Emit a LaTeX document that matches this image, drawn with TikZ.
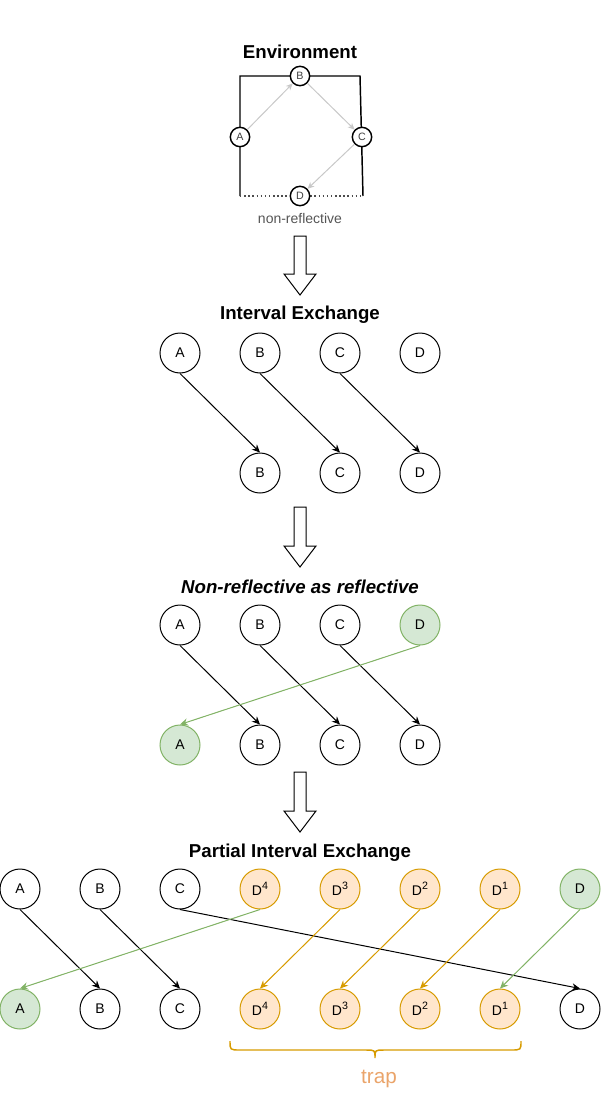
\documentclass[tikz,border=0pt]{standalone}
\usepackage{fontspec}
\setmainfont{Liberation Sans}
\usetikzlibrary{arrows.meta}
\definecolor{gfill}{HTML}{D5E8D4}
\definecolor{gline}{HTML}{82B366}
\definecolor{ofill}{HTML}{FFE6CC}
\definecolor{oline}{HTML}{D79B00}
\definecolor{traptext}{HTML}{EAA46A}
\definecolor{envarrow}{HTML}{C8C8C8}
\definecolor{envtext}{HTML}{555555}
\newcommand{\mysup}[1]{\raisebox{0.45em}{\fontsize{8}{9}\selectfont #1}}
\tikzset{
  st/.style={circle,draw=black,line width=0.75pt,fill=white,minimum size=30pt,inner sep=0pt,font=\fontsize{10.5}{12}\selectfont},
  gst/.style={st,draw=gline,fill=gfill},
  ost/.style={st,draw=oline,fill=ofill},
  est/.style={circle,draw=black,line width=1.1pt,fill=white,minimum size=14.5pt,inner sep=0pt,font=\fontsize{8}{9}\selectfont,text=black!75},
  ttl/.style={font=\fontsize{14}{16}\selectfont\bfseries},
  conn/.style={line width=0.75pt,-{Stealth[length=6pt,width=5.5pt,inset=2pt]}},
  gconn/.style={conn,draw=gline,fill=gline},
  oconn/.style={conn,draw=oline,fill=oline},
  earr/.style={line width=0.75pt,draw=envarrow,-{Stealth[length=5pt,width=4.5pt,inset=1.5pt]}},
  bigarrow/.style={draw=black,line width=0.75pt,fill=white,line join=miter},
}
\newcommand{\hollowdown}[2]{% #1 top y, #2 tip y
  \draw[bigarrow] (294,#1) -- (306,#1) -- (306,#2-21) -- (316,#2-21) -- (300,#2) -- (284,#2-21) -- (294,#2-21) -- cycle;
}
\begin{document}
\begin{tikzpicture}[x=0.75pt,y=-0.75pt]
\useasboundingbox (0,0) rectangle (601,1099);

% ---------- Environment ----------
\node[ttl] (t1) at (300,52) {Environment};
\draw[line width=1.1pt] (240,196) -- (240,76) -- (360,76) -- (363,196);
\draw[line width=1.1pt,dotted,black!70] (240,196) -- (363,196);
\node[est] (eA) at (240,137) {A};
\node[est] (eB) at (300,76) {B};
\node[est] (eC) at (362,137) {C};
\node[est] (eD) at (300,196) {D};
\draw[earr] (eA) -- (eB);
\draw[earr] (eB) -- (eC);
\draw[earr] (eC) -- (eD);
\node[font=\fontsize{10.5}{12}\selectfont,text=envtext] (nr) at (300,218) {non-reflective};

\hollowdown{236}{295}

% ---------- Interval Exchange ----------
\node[ttl] (t2) at (300,315) {Interval Exchange};
\node[st] (a1) at (180,353) {A};
\node[st] (b1) at (260,353) {B};
\node[st] (c1) at (340,353) {C};
\node[st] (d1) at (420,353) {D};
\node[st] (b1p) at (260,473) {B};
\node[st] (c1p) at (340,473) {C};
\node[st] (d1p) at (420,473) {D};
\draw[conn] (a1.south) -- (b1p.north);
\draw[conn] (b1.south) -- (c1p.north);
\draw[conn] (c1.south) -- (d1p.north);

\hollowdown{507}{567}

% ---------- Non-reflective as reflective ----------
\node[ttl,font=\fontsize{14}{16}\selectfont\bfseries\itshape] (t3) at (300,587) {Non-reflective as reflective};
\node[st] (a2) at (180,625) {A};
\node[st] (b2) at (260,625) {B};
\node[st] (c2) at (340,625) {C};
\node[gst] (d2) at (420,625) {D};
\node[gst] (a2p) at (180,745) {A};
\node[st] (b2p) at (260,745) {B};
\node[st] (c2p) at (340,745) {C};
\node[st] (d2p) at (420,745) {D};
\draw[conn] (a2.south) -- (b2p.north);
\draw[conn] (b2.south) -- (c2p.north);
\draw[conn] (c2.south) -- (d2p.north);
\draw[gconn] (d2.south) -- (a2p.north);

\hollowdown{772}{832}

% ---------- Partial Interval Exchange ----------
\node[ttl] (t4) at (300,853) {Partial Interval Exchange};
\node[st] (a3) at (20,889) {A};
\node[st] (b3) at (100,889) {B};
\node[st] (c3) at (180,889) {C};
\node[ost] (d43) at (260,889) {D\mysup{4}};
\node[ost] (d33) at (340,889) {D\mysup{3}};
\node[ost] (d23) at (420,889) {D\mysup{2}};
\node[ost] (d13) at (500,889) {D\mysup{1}};
\node[gst] (d3) at (580,889) {D};
\node[gst] (a3p) at (20,1009) {A};
\node[st] (b3p) at (100,1009) {B};
\node[st] (c3p) at (180,1009) {C};
\node[ost] (d43p) at (260,1009) {D\mysup{4}};
\node[ost] (d33p) at (340,1009) {D\mysup{3}};
\node[ost] (d23p) at (420,1009) {D\mysup{2}};
\node[ost] (d13p) at (500,1009) {D\mysup{1}};
\node[st] (d3p) at (580,1009) {D};
\draw[conn] (a3.south) -- (b3p.north);
\draw[conn] (b3.south) -- (c3p.north);
\draw[conn] (c3.south) -- (d3p.north);
\draw[gconn] (d43.south) -- (a3p.north);
\draw[oconn] (d33.south) -- (d43p.north);
\draw[oconn] (d23.south) -- (d33p.north);
\draw[oconn] (d13.south) -- (d23p.north);
\draw[gconn] (d3.south) -- (d13p.north);

% brace
\coordinate (bl) at (230,1041);
\coordinate (br) at (521,1041);
\draw[oline,line width=1.1pt] (bl) .. controls (230,1050) .. (240,1050) -- (366,1050) .. controls (375,1050) .. (375,1058) .. controls (375,1050) .. (384,1050) -- (511,1050) .. controls (521,1050) .. (br);
\node[font=\fontsize{15.5}{17}\selectfont,text=traptext] (trap) at (379,1079) {trap};
\end{tikzpicture}
\end{document}
